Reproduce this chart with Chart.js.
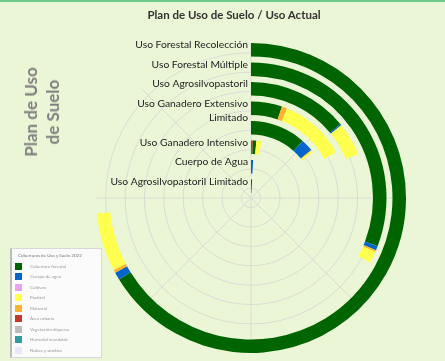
<!DOCTYPE html>
<html lang="es">
<head>
<meta charset="UTF-8">
<title>Plan de Uso de Suelo / Uso Actual</title>
<script src="https://cdn.jsdelivr.net/npm/chart.js"></script>
<style>
  body { margin: 0; background: #ebf6d6; }
  #wrap { position: relative; width: 445px; height: 361px; background: #ebf6d6; overflow: hidden; font-family: Lato, "Open Sans", sans-serif; }
  #topbar { position: absolute; left: 0; top: 0; width: 445px; height: 2px; background: #6cc98a; }
  canvas { position: absolute; left: 0; top: 0; }
  #title { position: absolute; left: 0; width: 468px; top: 8px; text-align: center; font-weight: bold; font-size: 11.5px; color: #333; }
  #ytitle { position: absolute; left: 42px; top: 112px; transform: translate(-50%, -50%) rotate(-90deg); text-align: center; font-weight: bold; font-size: 17px; line-height: 22px; color: #808080; white-space: nowrap; }
  #legend { position: absolute; left: 10px; top: 248px; width: 92px; height: 110px; background: #fbfbfb; border: 1px solid #d8d8d8; border-left: 2px solid #bbb; box-sizing: border-box; filter: blur(0.3px); }
  #legend .lt { font-size: 4.5px; color: #777; margin: 4px 0 3px 6px; }
  #legend .it { display: flex; align-items: center; height: 10.5px; margin-left: 3px; font-size: 4.5px; color: #999; }
  #legend .sw { flex: none; width: 7px; height: 7px; margin-right: 8px; }
</style>
</head>
<body>
<div id="wrap">
  <div id="topbar"></div>
  <canvas id="gridChart" width="445" height="361"></canvas>
  <canvas id="ringChart" width="445" height="361"></canvas>
  <div id="title">Plan de Uso de Suelo / Uso Actual</div>
  <div id="ytitle">Plan de Uso<br>de Suelo</div>
  <div id="legend"></div>
</div>
<script>
  // Plan de uso (one ring each, outermost first)
  const rings = ['Uso Forestal Recolección', 'Uso Forestal Múltiple', 'Uso Agrosilvopastoril',
    ['Uso Ganadero Extensivo', 'Limitado'], '', 'Uso Ganadero Intensivo', 'Cuerpo de Agua',
    'Uso Agrosilvopastoril Limitado'];

  // Uso actual, legend order
  const coverNames = ['Cobertura forestal', 'Cuerpo de agua', 'Cultivos', 'Pastizal', 'Matorral',
    'Área urbana', 'Vegetación dispersa', 'Humedal inundable', 'Nubes y sombra'];
  const coverColors = ['#006400', '#0066cc', '#e6a3f2', '#ffff4d', '#ffb22e',
    '#c0392b', '#bdbdbd', '#2e9c9c', '#ece6fa'];

  // % of a full turn, per ring
  const forestal   = [66.2, 30.8, 14.0, 5.2, 11.7, 1.0, 0, 1.0];
  const agua       = [0.8, 0.5, 0.2, 0, 2.6, 0, 0.9, 0];
  const cultivos   = [0, 0, 0, 0, 0, 0, 0, 0];
  const pastizal   = [6.1, 1.4, 4.6, 11.1, 0.4, 1.4, 0, 0];
  const matorral   = [0.3, 0.2, 0, 0.9, 0.2, 0, 0, 0];
  const urbana     = [0, 0, 0, 0, 0, 0.5, 0, 0];
  const vegetacion = [0, 0, 0, 0, 0, 0, 0, 0];
  const humedal    = [0, 0, 0, 0, 0, 0, 0, 0];
  const nubes      = [0, 0, 0, 0, 0, 0, 0, 0];
  const coverValues = [forestal, agua, cultivos, pastizal, matorral, urbana, vegetacion, humedal, nubes];
  const stackOrder = [5, 0, 1, 4, 3, 2, 6, 7, 8];

  // radial grid
  const angleLabels = ['0', '45', '90', '135', '180', '225', '270', '315'];
  const gridTicks = [0, 0.5, 1.5, 2.5, 3.5, 4.5, 5.5, 6.5, 7.5];

  const pad = { left: 96, right: 39, top: 43, bottom: 8 };

  // legend box
  const legend = document.getElementById('legend');
  legend.innerHTML = '<div class="lt">Coberturas de Uso y Suelo 2022</div>' +
    coverNames.map((n, i) => '<div class="it"><span class="sw" style="background:' + coverColors[i] + '"></span>' + n + '</div>').join('');

  new Chart(document.getElementById('gridChart'), {
    type: 'polarArea',
    data: { labels: angleLabels, datasets: [{ data: angleLabels.map(() => 0) }] },
    options: {
      responsive: false,
      animation: false,
      events: [],
      layout: { padding: pad },
      plugins: { legend: { display: false }, tooltip: { enabled: false } },
      scales: {
        r: {
          min: 0,
          max: 8,
          afterBuildTicks: (s) => { s.ticks = gridTicks.map(v => ({ value: v })); },
          ticks: { display: false },
          pointLabels: { display: false },
          grid: { circular: true, color: '#dadcd4', lineWidth: 1 },
          angleLines: { display: true, color: '#dadcd4', lineWidth: 1 }
        }
      }
    }
  });

  const datasets = [];
  rings.forEach((name, r) => {
    const vals = stackOrder.map(k => coverValues[k][r]);
    const total = vals.reduce((a, b) => a + b, 0);
    datasets.push({
      label: [].concat(name).join(' '),
      data: vals,
      backgroundColor: stackOrder.map(k => coverColors[k]),
      weight: 13.5,
      circumference: total * 3.6
    });
    if (r < rings.length - 1) {
      datasets.push({ data: [1], backgroundColor: 'rgba(0,0,0,0)', weight: 6 });
    }
  });

  const ringLabels = {
    id: 'ringLabels',
    afterDatasetsDraw(chart) {
      const ctx = chart.ctx;
      ctx.save();
      ctx.font = '10.3px Lato';
      ctx.fillStyle = '#222';
      ctx.textAlign = 'right';
      ctx.textBaseline = 'middle';
      rings.forEach((name, r) => {
        const arc = chart.getDatasetMeta(r * 2).data[0];
        [].concat(name).forEach((line, j) => {
          ctx.fillText(line, arc.x - 3, arc.y - arc.outerRadius + 2 + j * 14.5);
        });
      });
      ctx.restore();
    }
  };

  new Chart(document.getElementById('ringChart'), {
    type: 'doughnut',
    data: { labels: stackOrder.map(k => coverNames[k]), datasets: datasets },
    options: {
      responsive: false,
      animation: false,
      events: [],
      cutout: 5,
      borderWidth: 0,
      layout: { padding: pad },
      plugins: { legend: { display: false }, tooltip: { enabled: false } }
    },
    plugins: [ringLabels]
  });
</script>
</body>
</html>
